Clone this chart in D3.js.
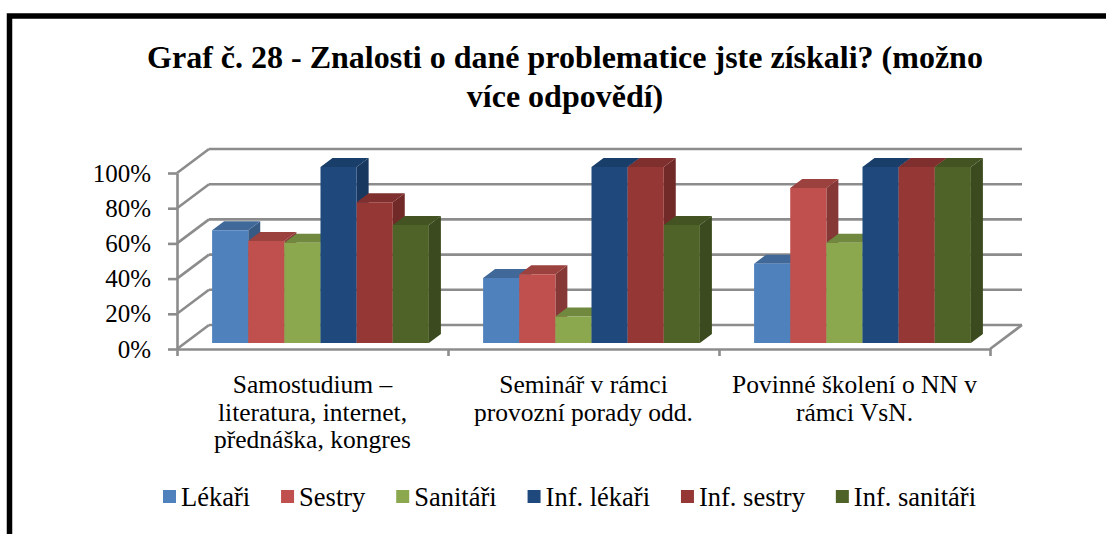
<!DOCTYPE html>
<html>
<head>
<meta charset="utf-8">
<script src="https://cdn.jsdelivr.net/npm/d3@7"></script>
</head>
<body style="margin:0">
<svg id="chart" width="1106" height="534"></svg>
<script>
// data
const categories = [
  ["Samostudium –", "literatura, internet,", "přednáška, kongres"],
  ["Seminář v rámci", "provozní porady odd."],
  ["Povinné školení o NN v", "rámci VsN."]
];
const seriesNames = ["Lékaři", "Sestry", "Sanitáři", "Inf. lékaři", "Inf. sestry", "Inf. sanitáři"];
const lekari = [64, 37, 45];
const sestry = [58, 39, 88];
const sanitari = [57, 15, 57];
const infLekari = [100, 100, 100];
const infSestry = [80, 100, 100];
const infSanitari = [67, 67, 100];
const yTicks = [0, 20, 40, 60, 80, 100];

const seriesValues = [lekari, sestry, sanitari, infLekari, infSestry, infSanitari];
const colors = ["#4F81BD", "#C0504D", "#8CA84E", "#1F497D", "#953735", "#4F6228"];

const FONT = "Liberation Serif";
const svg = d3.select("#chart").style("font-family", FONT);
const catKeys = categories.map((c, i) => i);

// plot box (front floor edge) + oblique depth
const LEFT = 177, RIGHT = 990;
const DX = 32, DY = -24;
const Z0 = 0.25, Z1 = 0.625;
const GRID = "#8c8c8c";

const y = d3.scaleLinear().domain([0, 100]).range([349, 173]);
const x = d3.scaleBand().domain(catKeys).range([LEFT, RIGHT]).paddingInner(0.2).paddingOuter(0.1);
const xs = d3.scaleBand().domain(seriesNames).range([0, x.bandwidth()]);
const xc = d3.scaleLinear().domain([0, categories.length]).range([LEFT, RIGHT]);

function proj(px, v, z) {
  return [px + DX * z, y(v) + DY * z];
}
const line = d3.line();

// chart frame
svg.append("rect")
  .attr("x", 9.5).attr("y", 16)
  .attr("width", 1200).attr("height", 600)
  .attr("fill", "none")
  .attr("stroke", "#000")
  .attr("stroke-width", 5.5);

// title
const title = ["Graf č. 28 - Znalosti o dané problematice jste získali? (možno", "více odpovědí)"];
svg.selectAll(".title")
  .data(title)
  .enter()
  .append("text")
  .attr("x", 565)
  .attr("y", (d, i) => 68 + i * 39)
  .attr("text-anchor", "middle")
  .style("font-family", FONT)
  .style("font-size", "32px")
  .style("font-weight", "bold")
  .text(d => d);

// back wall + side wall gridlines
const grid = svg.append("g")
  .attr("fill", "none")
  .attr("stroke", GRID)
  .attr("stroke-width", 2.6);

grid.selectAll(".back")
  .data(yTicks)
  .enter()
  .append("path")
  .attr("d", v => line([proj(LEFT, v, 1), proj(RIGHT, v, 1)]));

grid.selectAll(".side")
  .data(yTicks)
  .enter()
  .append("path")
  .attr("d", v => line([proj(LEFT, v, 0), proj(LEFT, v, 1)]));

grid.append("path")
  .attr("d", line([proj(RIGHT, 0, 0), proj(RIGHT, 0, 1)]));

// bars, painted left to right
const bars = [];
catKeys.forEach(c => {
  seriesNames.forEach((s, si) => {
    bars.push({ c, s, si, v: seriesValues[si][c] });
  });
});

const bar = svg.append("g")
  .selectAll(".bar")
  .data(bars)
  .enter()
  .append("g")
  .classed("bar", true);

function x0(d) { return x(d.c) + xs(d.s); }
function x1(d) { return x0(d) + xs.bandwidth(); }

bar.append("path")
  .attr("fill", d => d3.color(colors[d.si]).darker(d.si > 2 ? 0.75 : 1.0))
  .attr("d", d => line([proj(x1(d), 0, Z0), proj(x1(d), 0, Z1), proj(x1(d), d.v, Z1), proj(x1(d), d.v, Z0)]) + "Z");

bar.append("path")
  .attr("fill", d => d3.color(colors[d.si]).darker(d.si > 2 ? 0.45 : 0.6))
  .attr("d", d => line([proj(x0(d), d.v, Z0), proj(x1(d), d.v, Z0), proj(x1(d), d.v, Z1), proj(x0(d), d.v, Z1)]) + "Z");

bar.append("path")
  .attr("fill", d => colors[d.si])
  .attr("d", d => line([proj(x0(d), 0, Z0), proj(x1(d), 0, Z0), proj(x1(d), d.v, Z0), proj(x0(d), d.v, Z0)]) + "Z");

// value axis
const yAxis = svg.append("g")
  .attr("transform", `translate(${LEFT},0)`)
  .call(d3.axisLeft(y)
    .tickValues(yTicks)
    .tickFormat(d => d + "%")
    .tickSize(9)
    .tickSizeOuter(0)
    .tickPadding(17));
yAxis.attr("font-family", FONT).attr("font-size", 25);
yAxis.select(".domain").attr("stroke", GRID).attr("stroke-width", 2.6);
yAxis.selectAll(".tick line").attr("stroke", GRID).attr("stroke-width", 2.6);
yAxis.selectAll(".tick text")
  .style("font-family", FONT)
  .style("font-size", "25px")
  .attr("fill", "#000");

// category axis
const xAxis = svg.append("g")
  .attr("transform", `translate(0,${y(0)})`)
  .call(d3.axisBottom(xc)
    .tickValues(d3.range(categories.length + 1))
    .tickFormat("")
    .tickSize(7)
    .tickSizeOuter(0));
xAxis.select(".domain").attr("stroke", GRID).attr("stroke-width", 2.6);
xAxis.selectAll(".tick line").attr("stroke", GRID).attr("stroke-width", 2.6);

// category labels
svg.append("g")
  .selectAll(".cat")
  .data(categories)
  .enter()
  .append("text")
  .attr("text-anchor", "middle")
  .style("font-family", FONT)
  .style("font-size", "25.5px")
  .each(function(lines, i) {
    d3.select(this)
      .selectAll("tspan")
      .data(lines)
      .enter()
      .append("tspan")
      .attr("x", xc(i + 0.5))
      .attr("y", (d, j) => 393 + j * 27.5)
      .text(d => d);
  });

// legend, spread between x=163 and x=976
const legend = svg.append("g");
const item = legend.selectAll(".item")
  .data(seriesNames)
  .enter()
  .append("g");
item.append("rect")
  .attr("width", 13).attr("height", 13)
  .attr("y", 490)
  .attr("fill", (d, i) => colors[i]);
item.append("text")
  .attr("x", 18)
  .attr("y", 506)
  .style("font-family", FONT)
  .style("font-size", "26.5px")
  .text(d => d);

const widths = [];
item.each(function() {
  widths.push(18 + this.querySelector("text").getComputedTextLength());
});
const gap = (976 - 163 - d3.sum(widths)) / (widths.length - 1);
let pos = 163;
const offsets = widths.map(w => { const p = pos; pos += w + gap; return p; });
item.attr("transform", (d, i) => `translate(${offsets[i]},0)`);
</script>
</body>
</html>
